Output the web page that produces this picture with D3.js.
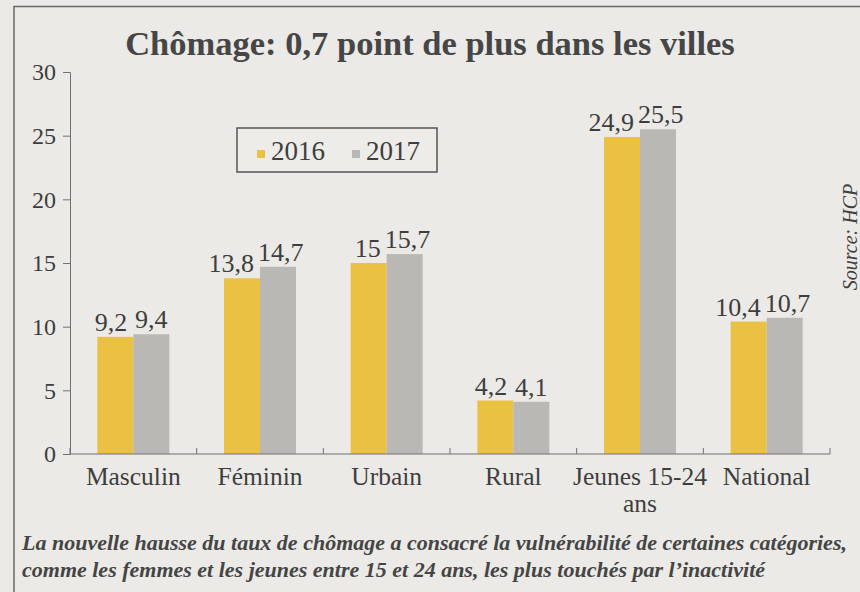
<!DOCTYPE html>
<html>
<head>
<meta charset="utf-8">
<script src="https://cdn.jsdelivr.net/npm/d3@7"></script>
<style>
  body { margin: 0; background: #ebeae6; }
  svg { display: block; }
</style>
</head>
<body>
<svg width="860" height="592"></svg>
<script>
// data
const categories = ["Masculin", "Féminin", "Urbain", "Rural", "Jeunes 15-24 ans", "National"];
const categoryLines = [["Masculin"], ["Féminin"], ["Urbain"], ["Rural"], ["Jeunes 15-24", "ans"], ["National"]];
const years = ["2016", "2017"];
const values2016 = [9.2, 13.8, 15, 4.2, 24.9, 10.4];
const values2017 = [9.4, 14.7, 15.7, 4.1, 25.5, 10.7];
const yTicks = [0, 5, 10, 15, 20, 25, 30];
const colors = { "2016": "#ebc143", "2017": "#b9b8b4" };

const svg = d3.select("svg");
const serif = "'Liberation Serif', 'DejaVu Serif', serif";
const ink = "#3e3e3e";

// frame
svg.append("path")
  .attr("d", "M14,592V6.5H860")
  .attr("fill", "none").attr("stroke", "#6a6a6a").attr("stroke-width", 1.5);

// title
svg.append("text")
  .attr("x", 430).attr("y", 55)
  .attr("text-anchor", "middle")
  .attr("font-family", serif).attr("font-weight", "bold").attr("font-size", 34.5)
  .attr("fill", "#464646")
  .text("Chômage: 0,7 point de plus dans les villes");

const margin = { left: 70, right: 30, top: 72, bottom: 138 };
const width = 860 - margin.left - margin.right;
const height = 592 - margin.top - margin.bottom;

const g = svg.append("g").attr("transform", `translate(${margin.left},${margin.top})`);

const x = d3.scaleBand().domain(categories).range([0, width]).paddingInner(0).paddingOuter(0);
const xSub = d3.scaleBand().domain(years).range([0, 72]);
const y = d3.scaleLinear().domain([0, 30]).range([height, 0]);

// y axis
const yAxis = g.append("g")
  .call(d3.axisLeft(y).tickValues(yTicks).tickSize(7).tickPadding(7).tickFormat(d3.format("d")));
yAxis.select(".domain").attr("stroke", "#707070");
yAxis.selectAll(".tick line").attr("stroke", "#707070");
yAxis.selectAll("text").attr("font-family", serif).attr("font-size", 24).attr("fill", ink);

// bars
const rows = categories.map((c, i) => ({ cat: c, vals: [values2016[i], values2017[i]] }));
const groups = g.selectAll(".grp").data(rows).join("g")
  .attr("transform", d => `translate(${x(d.cat) + (x.bandwidth() - 72) / 2},0)`);

groups.selectAll("rect").data(d => d.vals.map((v, j) => ({ year: years[j], v })))
  .join("rect")
  .attr("x", d => xSub(d.year))
  .attr("width", xSub.bandwidth())
  .attr("y", d => y(d.v))
  .attr("height", d => y(0) - y(d.v))
  .attr("fill", d => colors[d.year]);

// value labels, pushed apart when wider than the bar
groups.selectAll(".val").data(d => d.vals.map((v, j) => ({ year: years[j], v })))
  .join("text")
  .attr("class", "val")
  .attr("y", d => y(d.v) - 6)
  .attr("text-anchor", "middle")
  .attr("font-family", serif).attr("font-size", 26).attr("fill", ink)
  .text(d => String(d.v).replace(".", ","))
  .attr("x", function (d) {
    const w = this.getComputedTextLength();
    const bw = xSub.bandwidth();
    const c = xSub(d.year) + bw / 2;
    if (d.year === "2016") return Math.min(c, bw - w / 2 - 6);
    return Math.max(c, bw + w / 2 - 2);
  });

// x axis
const xAxisG = g.append("g").attr("transform", `translate(0,${height})`);
xAxisG.append("line").attr("x1", 0).attr("x2", width).attr("stroke", "#707070");
xAxisG.selectAll(".xt").data(d3.range(categories.length + 1)).join("line")
  .attr("x1", i => i * x.step()).attr("x2", i => i * x.step())
  .attr("y1", 0).attr("y2", -6).attr("stroke", "#707070");

const xl = xAxisG.selectAll(".xl").data(categories).join("text")
  .attr("x", d => x(d) + x.bandwidth() / 2)
  .attr("y", 31)
  .attr("text-anchor", "middle")
  .attr("font-family", serif).attr("font-size", 25.5).attr("fill", ink);
xl.each(function (d, i) {
  categoryLines[i].forEach((line, k) => {
    d3.select(this).append("tspan")
      .attr("x", x(d) + x.bandwidth() / 2)
      .attr("dy", k === 0 ? 0 : 27)
      .text(line);
  });
});

// legend
const lg = svg.append("g").attr("transform", "translate(237,128)");
lg.append("rect").attr("width", 200).attr("height", 44)
  .attr("fill", "#edece8").attr("stroke", "#555").attr("stroke-width", 1.5);
years.forEach((yr, i) => {
  const ox = 20 + i * 95;
  lg.append("rect").attr("x", ox).attr("y", 22).attr("width", 8).attr("height", 8).attr("fill", colors[yr]);
  lg.append("text").attr("x", ox + 14).attr("y", 32)
    .attr("font-family", serif).attr("font-size", 27).attr("fill", ink)
    .text(yr);
});

// source
svg.append("text")
  .attr("transform", "translate(857,237) rotate(-90)")
  .attr("text-anchor", "middle")
  .attr("font-family", serif).attr("font-style", "italic").attr("font-size", 20).attr("fill", ink)
  .text("Source: HCP");

// caption
const caption = [
  "La nouvelle hausse du taux de chômage a consacré la vulnérabilité de certaines catégories,",
  "comme les femmes et les jeunes entre 15 et 24 ans, les plus touchés par l’inactivité"
];
svg.selectAll(".cap").data(caption).join("text")
  .attr("x", 22).attr("y", (d, i) => 550 + i * 27)
  .attr("font-family", serif).attr("font-style", "italic").attr("font-weight", "bold")
  .attr("font-size", 22).attr("fill", "#454545")
  .text(d => d);
</script>
</body>
</html>
